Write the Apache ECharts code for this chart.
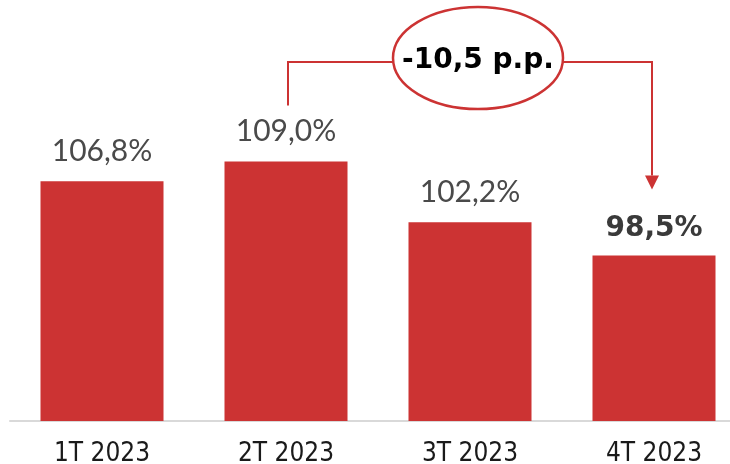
<!DOCTYPE html>
<html>
<head>
<meta charset="utf-8">
<script src="https://cdn.jsdelivr.net/npm/echarts@6/dist/echarts.min.js"></script>
<style>
  html, body { margin: 0; padding: 0; background: #fff; overflow: hidden; }
  #wrap { width: 730px; height: 464px; overflow: hidden; position: relative; }
  #chart { width: 746px; height: 464px; position: absolute; left: 0; top: 0; }
</style>
</head>
<body>
<div id="wrap"><div id="chart"></div></div>
<script>
const categories = ['1T 2023', '2T 2023', '3T 2023', '4T 2023'];
const values = [106.8, 109.0, 102.2, 98.5];
const deltaText = '-10,5 p.p.';

const barColor = '#CC3333';

const chart = echarts.init(document.getElementById('chart'));

const fmt = v => v.toFixed(1).replace('.', ',') + '%';

chart.setOption({
  animation: false,
  grid: { left: 10, top: 63, right: 0, bottom: 43, outerBoundsMode: 'none', containLabel: false },
  xAxis: {
    type: 'category',
    data: categories,
    axisLine: { lineStyle: { color: '#d9d9d9', width: 2 } },
    axisTick: { show: false },
    axisLabel: {
      color: '#1a1a1a',
      fontFamily: 'DejaVu Sans Condensed, sans-serif',
      fontSize: 26,
      margin: 20
    }
  },
  yAxis: {
    type: 'value',
    min: 80,
    max: 120,
    show: false,
    splitLine: { show: false }
  },
  series: [{
    type: 'bar',
    barWidth: 123,
    itemStyle: { color: barColor },
    data: values.map((v, i) => {
      const last = i === values.length - 1;
      return {
        value: v,
        label: {
          show: true,
          position: 'top',
          distance: last ? 13 : 15,
          formatter: fmt(v),
          color: last ? '#3a3a3a' : '#4a4a4a',
          fontFamily: last ? 'DejaVu Sans, sans-serif' : 'Lato, sans-serif',
          fontWeight: last ? 'bold' : 'normal',
          fontSize: last ? 28 : 30
        }
      };
    })
  }]
});

// annotation: bracket from 2T to 4T with ellipse
const p2 = chart.convertToPixel({ seriesIndex: 0 }, [1, 120]);
const p4 = chart.convertToPixel({ seriesIndex: 0 }, [3, 120]);
const top2 = chart.convertToPixel({ seriesIndex: 0 }, [1, values[1]]);
const top4 = chart.convertToPixel({ seriesIndex: 0 }, [3, values[3]]);
const lineY = p2[1] - 1;
const cx = 478;
const stroke = { stroke: barColor, lineWidth: 2, fill: null };

chart.setOption({
  graphic: [
    {
      type: 'polyline',
      shape: { points: [[p2[0] + 2, top2[1] - 56], [p2[0] + 2, lineY], [p4[0] - 2, lineY], [p4[0] - 2, top4[1] - 80]] },
      style: stroke
    },
    {
      type: 'polygon',
      shape: { points: [[p4[0] - 9, top4[1] - 80], [p4[0] + 5, top4[1] - 80], [p4[0] - 2, top4[1] - 66]] },
      style: { fill: barColor }
    },
    {
      type: 'ellipse',
      shape: { cx: cx, cy: 58, rx: 85, ry: 51 },
      style: { fill: '#fff', stroke: barColor, lineWidth: 2.5 }
    },
    {
      type: 'text',
      x: cx,
      y: 61,
      style: {
        text: deltaText,
        fill: '#000',
        font: 'bold 28px DejaVu Sans, sans-serif',
        align: 'center',
        verticalAlign: 'middle'
      }
    }
  ]
});
</script>
</body>
</html>
